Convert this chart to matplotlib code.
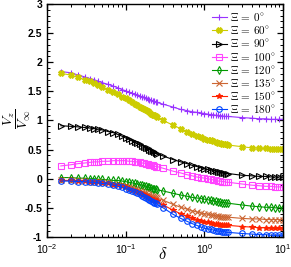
import matplotlib
matplotlib.use("Agg")
import matplotlib.pyplot as plt
from matplotlib.ticker import MultipleLocator, LogLocator, NullFormatter
from matplotlib.font_manager import FontProperties

plt.rcParams['font.family'] = 'Liberation Sans'

delta = [0.015, 0.02, 0.025, 0.03, 0.035, 0.04, 0.045, 0.05,
         0.06, 0.07, 0.08, 0.09, 0.10, 0.11, 0.12, 0.13, 0.14, 0.15,
         0.16, 0.17, 0.18, 0.19, 0.20, 0.21, 0.22, 0.23, 0.24, 0.25,
         0.3, 0.4, 0.5, 0.6, 0.7, 0.8, 0.9, 1.0, 1.1, 1.2, 1.3, 1.4,
         1.5, 1.6, 1.7, 1.8, 1.9, 2.0, 3, 4, 5, 6, 7, 8, 9, 10]

vz_0 = [1.84, 1.82, 1.78, 1.75, 1.72, 1.70, 1.67, 1.65,
        1.62, 1.59, 1.56, 1.53, 1.51, 1.49, 1.47, 1.45, 1.44, 1.42,
        1.41, 1.40, 1.38, 1.37, 1.36, 1.35, 1.34, 1.33, 1.32, 1.31,
        1.28, 1.23, 1.19, 1.17, 1.15, 1.14, 1.13, 1.12, 1.11, 1.10, 1.10, 1.09,
        1.09, 1.08, 1.08, 1.07, 1.07, 1.07, 1.05, 1.04, 1.03, 1.03, 1.02, 1.02, 1.02, 1.02]
vz_60 = [1.81, 1.78, 1.74, 1.70, 1.67, 1.64, 1.61, 1.58,
         1.53, 1.49, 1.45, 1.41, 1.38, 1.35, 1.32, 1.29, 1.27, 1.24,
         1.22, 1.20, 1.18, 1.16, 1.14, 1.12, 1.10, 1.09, 1.07, 1.06,
         1.00, 0.92, 0.86, 0.81, 0.77, 0.74, 0.71, 0.69, 0.67, 0.66, 0.64, 0.63,
         0.62, 0.61, 0.60, 0.60, 0.59, 0.58, 0.55, 0.53, 0.52, 0.52, 0.51, 0.51, 0.51, 0.51]
vz_90 = [0.91, 0.90, 0.89, 0.88, 0.87, 0.86, 0.85, 0.84,
         0.81, 0.79, 0.76, 0.73, 0.70, 0.68, 0.65, 0.63, 0.61, 0.59,
         0.57, 0.55, 0.53, 0.52, 0.50, 0.48, 0.47, 0.46, 0.44, 0.43,
         0.39, 0.33, 0.29, 0.26, 0.23, 0.21, 0.19, 0.17, 0.16, 0.15, 0.14, 0.13,
         0.12, 0.11, 0.10, 0.10, 0.09, 0.09, 0.06, 0.05, 0.04, 0.04, 0.03, 0.03, 0.03, 0.03]
vz_100 = [0.22, 0.24, 0.26, 0.27, 0.28, 0.29, 0.29, 0.30,
          0.30, 0.31, 0.31, 0.31, 0.31, 0.30, 0.30, 0.29, 0.29, 0.28,
          0.27, 0.27, 0.26, 0.25, 0.24, 0.24, 0.23, 0.22, 0.21, 0.21,
          0.18, 0.13, 0.10, 0.07, 0.05, 0.03, 0.02, 0.01, 0.00, -0.01, -0.02, -0.03,
          -0.04, -0.04, -0.05, -0.05, -0.06, -0.06, -0.09, -0.11, -0.12, -0.13, -0.13, -0.14, -0.14, -0.14]
vz_120 = [0.02, 0.02, 0.01, 0.01, 0.00, 0.00, -0.01, -0.01,
          -0.02, -0.03, -0.03, -0.04, -0.05, -0.06, -0.07, -0.08, -0.09, -0.10,
          -0.11, -0.12, -0.13, -0.14, -0.15, -0.16, -0.17, -0.17, -0.18, -0.19,
          -0.21, -0.25, -0.28, -0.30, -0.32, -0.33, -0.34, -0.35, -0.36, -0.37, -0.38, -0.39,
          -0.40, -0.40, -0.41, -0.41, -0.42, -0.42, -0.45, -0.47, -0.48, -0.49, -0.49, -0.50, -0.50, -0.50]
vz_135 = [-0.03, -0.03, -0.04, -0.04, -0.05, -0.05, -0.06, -0.06,
          -0.07, -0.09, -0.10, -0.12, -0.13, -0.15, -0.16, -0.18, -0.19, -0.21,
          -0.22, -0.24, -0.25, -0.26, -0.28, -0.29, -0.30, -0.31, -0.32, -0.33,
          -0.37, -0.44, -0.49, -0.52, -0.55, -0.57, -0.59, -0.60, -0.61, -0.62, -0.63, -0.64,
          -0.64, -0.65, -0.65, -0.66, -0.66, -0.66, -0.68, -0.69, -0.69, -0.70, -0.70, -0.70, -0.70, -0.70]
vz_150 = [-0.03, -0.03, -0.04, -0.04, -0.05, -0.05, -0.06, -0.07,
          -0.08, -0.10, -0.11, -0.13, -0.15, -0.17, -0.19, -0.21, -0.23, -0.25,
          -0.27, -0.28, -0.30, -0.31, -0.33, -0.34, -0.36, -0.37, -0.38, -0.39,
          -0.45, -0.54, -0.60, -0.64, -0.67, -0.70, -0.72, -0.74, -0.75, -0.76, -0.77, -0.78,
          -0.78, -0.79, -0.79, -0.80, -0.80, -0.80, -0.82, -0.83, -0.84, -0.84, -0.85, -0.85, -0.85, -0.85]
vz_180 = [-0.04, -0.04, -0.05, -0.05, -0.06, -0.06, -0.07, -0.08,
          -0.09, -0.11, -0.13, -0.15, -0.17, -0.19, -0.21, -0.23, -0.25, -0.27,
          -0.29, -0.31, -0.33, -0.35, -0.37, -0.38, -0.40, -0.41, -0.42, -0.44,
          -0.50, -0.61, -0.68, -0.73, -0.77, -0.80, -0.83, -0.85, -0.86, -0.87, -0.88, -0.89,
          -0.90, -0.90, -0.91, -0.91, -0.92, -0.92, -0.94, -0.95, -0.96, -0.96, -0.97, -0.97, -0.97, -0.97]

angles = ['0', '60', '90', '100', '120', '135', '150', '180']
series = [vz_0, vz_60, vz_90, vz_100, vz_120, vz_135, vz_150, vz_180]
colors = ['#9933ff', '#cccc00', 'black', '#ff44ff', '#009900', '#cc6633', '#ff2200', '#0044ff']
markers = ['+', 'X', '>', 's', 'd', 'x', '*', 'o']
filled = [True, True, False, False, False, True, True, False]

fig = plt.figure(figsize=(2.91, 2.67), dpi=100)
ax = fig.add_axes([0.1615, 0.1124, 0.811, 0.8726])

for ang, vals, c, m, f in zip(angles, series, colors, markers, filled):
    ax.plot(delta, vals, color=c, lw=0.8, marker=m, ms=4, mew=0.8,
            mfc=c if f else 'none', mec=c,
            label=r'$\mathrm{\Xi}\,=\,\mathrm{' + ang + r'}^{\circ}$')

ax.set_xscale('log')
ax.set_xlim(1e-2, 1e1)
ax.set_ylim(-1, 3)
ax.yaxis.set_minor_locator(MultipleLocator(0.1))
ax.xaxis.set_minor_locator(LogLocator(base=10, subs=range(2, 10)))
ax.xaxis.set_minor_formatter(NullFormatter())
ax.set_yticks([-1, -0.5, 0, 0.5, 1, 1.5, 2, 2.5, 3])
ax.set_yticklabels(['-1', '-0.5', '0', '0.5', '1', '1.5', '2', '2.5', '3'], fontweight='bold')
ax.tick_params(which='both', direction='in', top=True, right=True, labelsize=7.5)
ax.tick_params(which='major', length=4, width=0.9)
ax.tick_params(which='minor', length=2, width=0.7)
for s in ax.spines.values():
    s.set_linewidth(1.0)

ax.set_xlabel(r'$\delta$', fontsize=12, math_fontfamily='cm', va='center')
ax.xaxis.set_label_coords(0.49, -0.075)
ax.set_ylabel(r'$\dfrac{V_z}{V_\infty}$', fontsize=10, math_fontfamily='cm', va='center')
ax.yaxis.set_label_coords(-0.125, 0.51)

leg = ax.legend(loc='upper right', frameon=False, handlelength=1.3,
                handletextpad=0.3, labelspacing=0.1, borderaxespad=0.25,
                prop=FontProperties(size=8, math_fontfamily='cm'))

fig.savefig('out.png', dpi=100)
